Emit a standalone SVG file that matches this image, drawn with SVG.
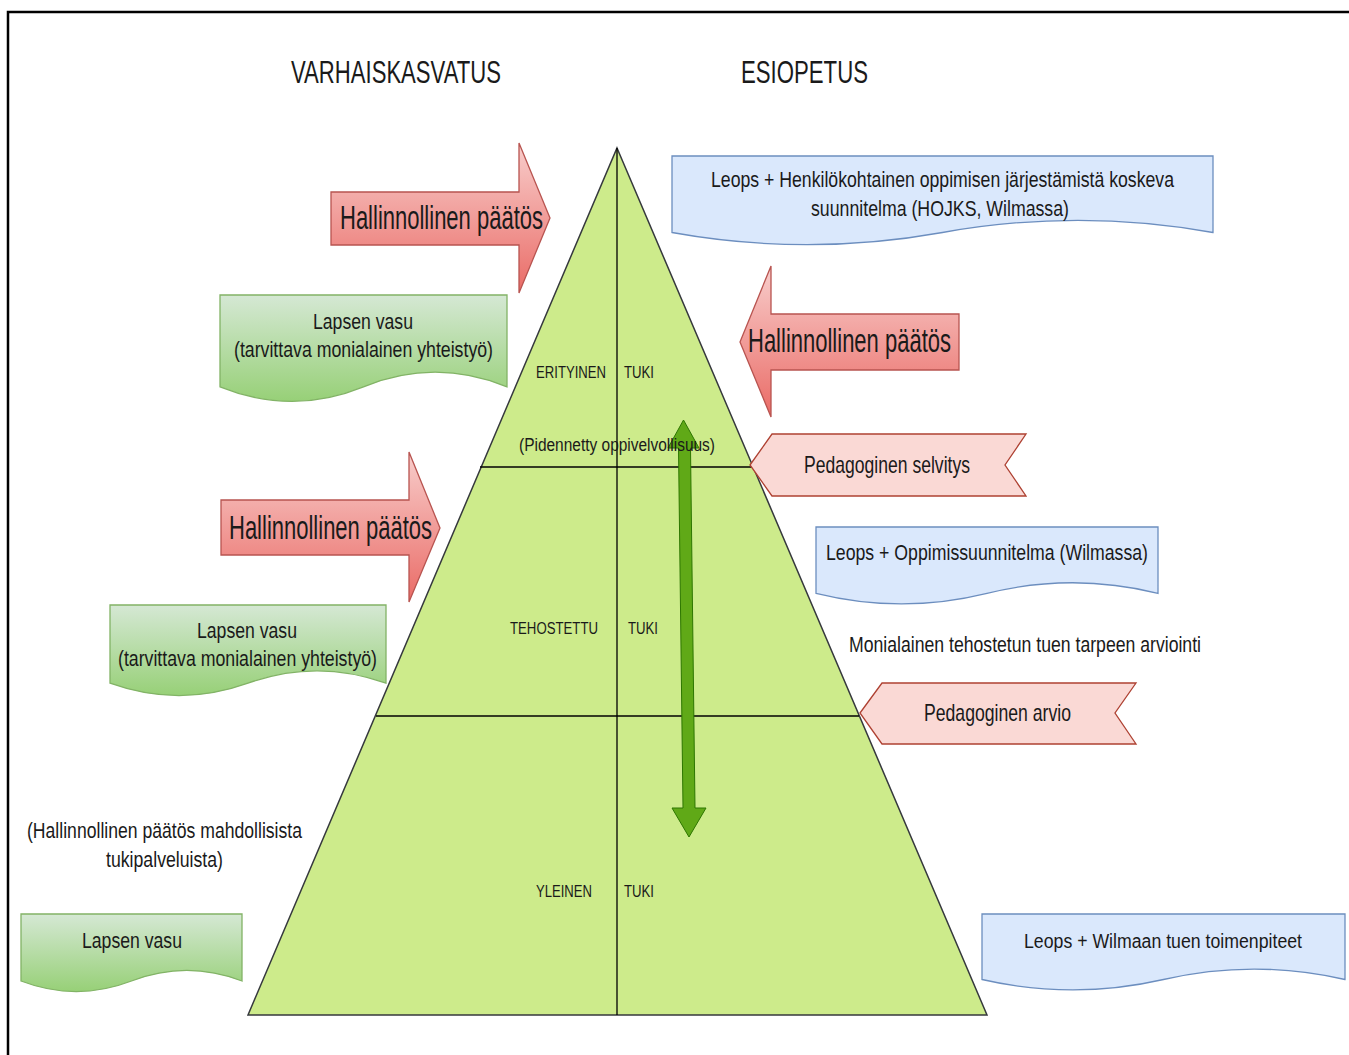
<svg xmlns="http://www.w3.org/2000/svg" width="1349" height="1055" viewBox="0 0 1349 1055">
<style>
text{font-family:"Liberation Sans",Arial,sans-serif;fill:#1a1a1a;}
.big{font-size:33px;}
.hd{font-size:32px;}
.box{font-size:22px;}
.rib{font-size:24px;}
.lbl{font-size:16px;}
.sub{font-size:18px;}
.side{font-size:22px;}
.red{fill:url(#gRed);stroke:#b85450;stroke-width:1.3;}
.grn{fill:url(#gGrn);stroke:#82b366;stroke-width:1.3;}
.blu{fill:#dae8fc;stroke:#6c8ebf;stroke-width:1.3;}
.pnk{fill:#fad9d5;stroke:#ae4132;stroke-width:1.3;}
.ln{stroke:#000;stroke-width:1.3;fill:none;}
</style>
<defs>
<linearGradient id="gRed" x1="0" y1="0" x2="0" y2="1"><stop offset="0" stop-color="#f8cecc"/><stop offset="1" stop-color="#ea6b66"/></linearGradient>
<linearGradient id="gGrn" x1="0" y1="0" x2="0" y2="1"><stop offset="0" stop-color="#d5e8d4"/><stop offset="1" stop-color="#97d077"/></linearGradient>
</defs>
<rect width="1349" height="1055" fill="#fff"/>
<path d="M8,1055 V12 H1349" fill="none" stroke="#000" stroke-width="2.5"/>

<g id="headings">
<text class="hd" x="291" y="83" textLength="210" lengthAdjust="spacingAndGlyphs">VARHAISKASVATUS</text>
<text class="hd" x="741" y="83" textLength="127" lengthAdjust="spacingAndGlyphs">ESIOPETUS</text>
</g>

<g id="pyramid">
<path d="M617,148 L987,1015 L248,1015 Z" fill="#cdeb8b" stroke="#36393d" stroke-width="1.5"/>
<line class="ln" x1="480" y1="467" x2="753" y2="467"/>
<line class="ln" x1="376" y1="716" x2="859" y2="716"/>
<line class="ln" x1="617" y1="148" x2="617" y2="1015"/>
</g>

<g id="connectors">
<path d="M683.5,420 L699,448 L690.5,448 L695,808 L706,808 L689,837 L672,808 L683,808 L678.5,448 L668,448 Z" fill="#60a917" stroke="#2d7600" stroke-width="1"/>
</g>

<g id="pyramid-labels">
<text class="lbl" x="536" y="378" textLength="70" lengthAdjust="spacingAndGlyphs">ERITYINEN</text>
<text class="lbl" x="624" y="378" textLength="30" lengthAdjust="spacingAndGlyphs">TUKI</text>
<text class="sub" x="519" y="451" textLength="196" lengthAdjust="spacingAndGlyphs">(Pidennetty oppivelvollisuus)</text>
<text class="lbl" x="510" y="634" textLength="88" lengthAdjust="spacingAndGlyphs">TEHOSTETTU</text>
<text class="lbl" x="628" y="634" textLength="30" lengthAdjust="spacingAndGlyphs">TUKI</text>
<text class="lbl" x="536" y="897" textLength="56" lengthAdjust="spacingAndGlyphs">YLEINEN</text>
<text class="lbl" x="624" y="897" textLength="30" lengthAdjust="spacingAndGlyphs">TUKI</text>
</g>

<g id="arrow-paatos-1">
<path class="red" d="M331,192 H519 V143 L550,218 L519,293 V245 H331 Z"/>
<text class="big" x="340" y="229" textLength="203" lengthAdjust="spacingAndGlyphs">Hallinnollinen päätös</text>
</g>
<g id="arrow-paatos-2">
<path class="red" d="M959,314 H771 V266 L740,342 L771,417 V370 H959 Z"/>
<text class="big" x="748" y="352" textLength="203" lengthAdjust="spacingAndGlyphs">Hallinnollinen päätös</text>
</g>
<g id="arrow-paatos-3">
<path class="red" d="M221,500 H409 V452 L440,528 L409,602 V555 H221 Z"/>
<text class="big" x="229" y="539" textLength="203" lengthAdjust="spacingAndGlyphs">Hallinnollinen päätös</text>
</g>

<g id="vasu-1">
<path class="grn" d="M220,295 H507 V386.8 Q435,357.6 363.5,386.8 T220,386.8 Z"/>
<text class="box" x="313" y="329" textLength="100" lengthAdjust="spacingAndGlyphs">Lapsen vasu</text>
<text class="box" x="234" y="357" textLength="259" lengthAdjust="spacingAndGlyphs">(tarvittava monialainen yhteistyö)</text>
</g>
<g id="vasu-2">
<path class="grn" d="M110,605 H386 V683.2 Q317,658.4 248,683.2 T110,683.2 Z"/>
<text class="box" x="197" y="638" textLength="100" lengthAdjust="spacingAndGlyphs">Lapsen vasu</text>
<text class="box" x="118" y="666" textLength="259" lengthAdjust="spacingAndGlyphs">(tarvittava monialainen yhteistyö)</text>
</g>
<g id="vasu-3">
<path class="grn" d="M21,914 H242 V981 Q186.75,959.8 131.5,981 T21,981 Z"/>
<text class="box" x="82" y="948" textLength="100" lengthAdjust="spacingAndGlyphs">Lapsen vasu</text>
</g>

<g id="leops-hojks">
<path class="blu" d="M672,156 H1213 V232.5 Q1077.75,208.2 942.5,232.5 T672,232.5 Z"/>
<text class="box" x="711" y="187" textLength="463" lengthAdjust="spacingAndGlyphs">Leops + Henkilökohtainen oppimisen järjestämistä koskeva</text>
<text class="box" x="811" y="216" textLength="258" lengthAdjust="spacingAndGlyphs">suunnitelma (HOJKS, Wilmassa)</text>
</g>
<g id="leops-oppimissuunnitelma">
<path class="blu" d="M816,527 H1158 V593.3 Q1072.5,572.2 987,593.3 T816,593.3 Z"/>
<text class="box" x="826" y="560" textLength="322" lengthAdjust="spacingAndGlyphs">Leops + Oppimissuunnitelma (Wilmassa)</text>
</g>
<g id="leops-wilma">
<path class="blu" d="M982,914 H1345 V979.5 Q1254,958.7 1163.5,979.5 T982,979.5 Z"/>
<text class="box" style="font-size:20px" x="1163" y="948" text-anchor="middle" textLength="278" lengthAdjust="spacingAndGlyphs">Leops + Wilmaan tuen toimenpiteet</text>
</g>

<g id="pedagoginen-selvitys">
<path class="pnk" d="M750,465 L772,434 H1026 L1005,465 L1026,496 H772 Z"/>
<text class="rib" x="804" y="473" textLength="166" lengthAdjust="spacingAndGlyphs">Pedagoginen selvitys</text>
</g>
<g id="pedagoginen-arvio">
<path class="pnk" d="M860,713 L882,683 H1136 L1115,713 L1136,744 H882 Z"/>
<text class="rib" x="924" y="721" textLength="147" lengthAdjust="spacingAndGlyphs">Pedagoginen arvio</text>
</g>

<g id="monialainen-arviointi">
<text class="side" x="849" y="652" textLength="352" lengthAdjust="spacingAndGlyphs">Monialainen tehostetun tuen tarpeen arviointi</text>
</g>
<g id="hallinnollinen-tukipalvelut">
<text class="side" x="27" y="838" textLength="275" lengthAdjust="spacingAndGlyphs">(Hallinnollinen päätös mahdollisista</text>
<text class="side" x="106" y="867" textLength="117" lengthAdjust="spacingAndGlyphs">tukipalveluista)</text>
</g>
</svg>
